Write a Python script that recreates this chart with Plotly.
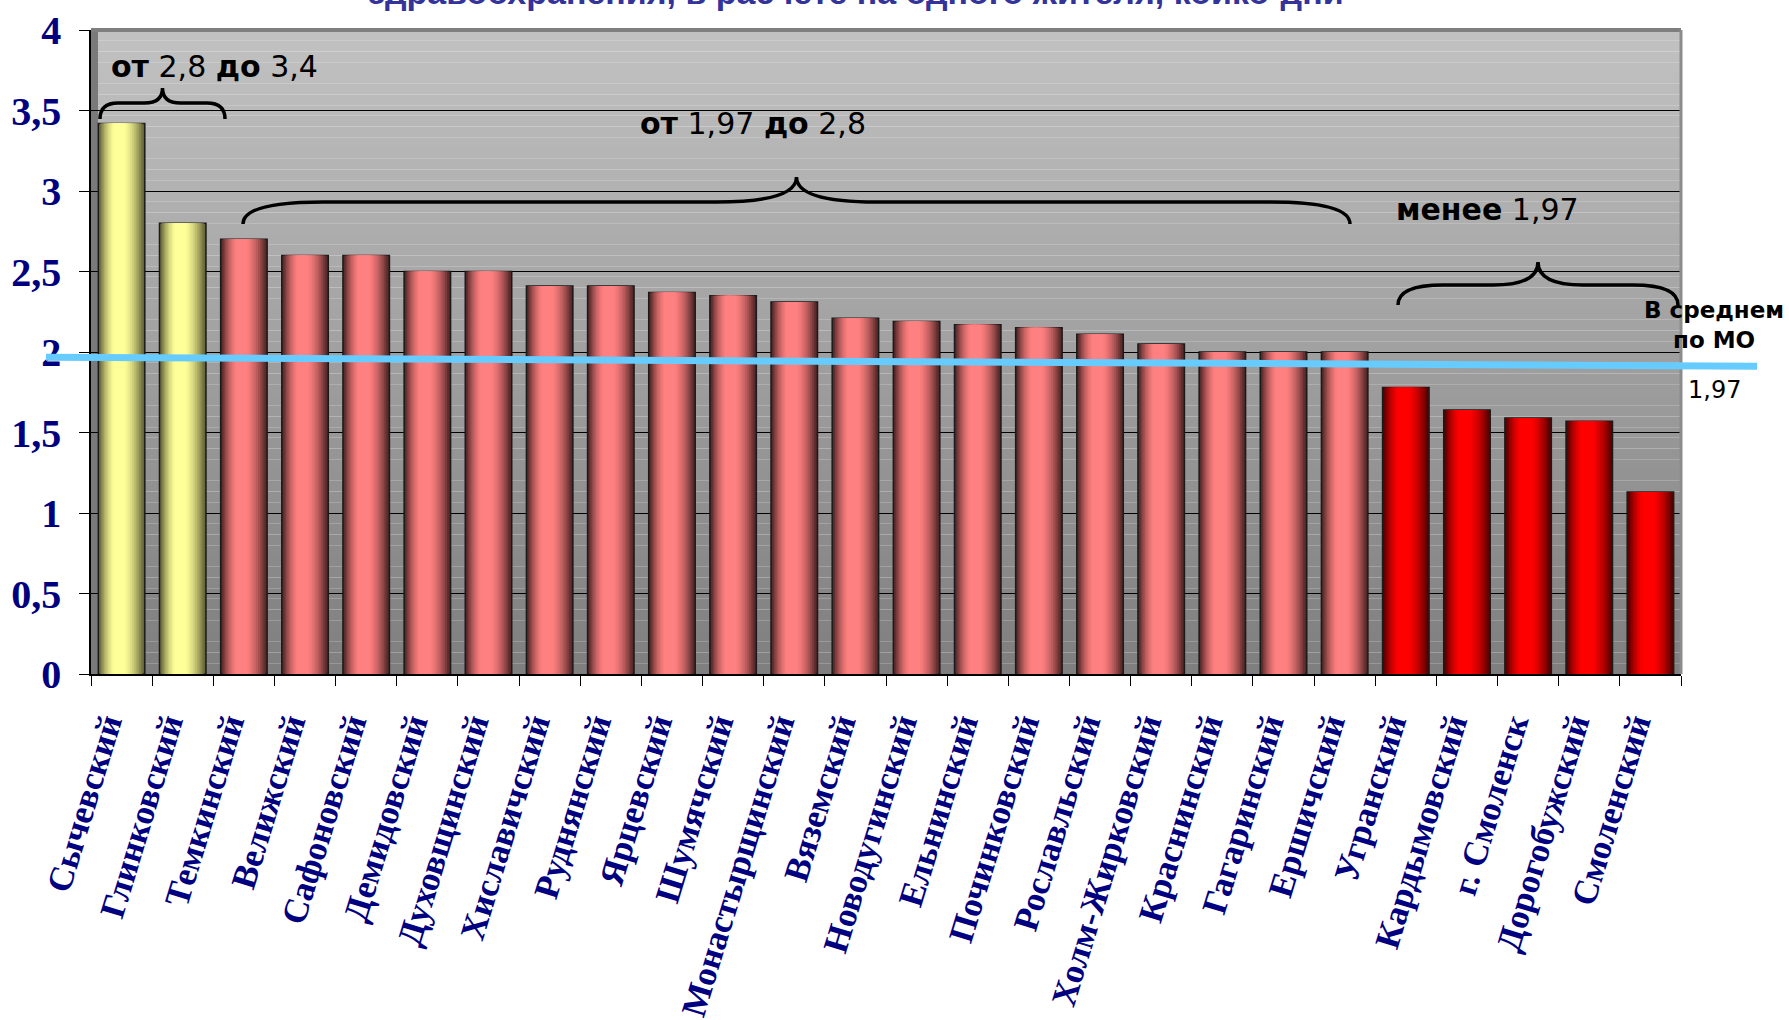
import plotly.graph_objects as go

# ---------------- data ----------------
categories = [
    "Сычевский", "Глинковский", "Темкинский", "Велижский", "Сафоновский",
    "Демидовский", "Духовщинский", "Хиславичский", "Руднянский", "Ярцевский",
    "Шумячский", "Монастырщинский", "Вяземский", "Новодугинский", "Ельнинский",
    "Починковский", "Рославльский", "Холм-Жирковский", "Краснинский", "Гагаринский",
    "Ершичский", "Угранский", "Кардымовский", "г. Смоленск", "Дорогобужский",
    "Смоленский",
]
values = [
    3.42, 2.80, 2.70, 2.60, 2.60,
    2.50, 2.50, 2.41, 2.41, 2.37,
    2.35, 2.31, 2.21, 2.19, 2.17,
    2.15, 2.11, 2.05, 2.00, 2.00,
    2.00, 1.78, 1.64, 1.59, 1.57,
    1.13,
]
AVG = 1.97
HIGH = 2.8
y_tick_values = [0, 0.5, 1, 1.5, 2, 2.5, 3, 3.5, 4]
title_text = "здравоохранения, в расчете на одного жителя, койко-дни"
group_labels = ["<b>от</b> 2,8 <b>до</b> 3,4", "<b>от</b> 1,97 <b>до</b> 2,8", "<b>менее</b> 1,97"]
avg_label = "<b>В среднем<br>по МО</b>"
avg_value_label = "1,97"

# ---------------- styling ----------------
W, H = 1789, 1020
L, R, T, B = 91, 1681, 30, 674

def px(x):
    return (x - L) / (R - L)

def py(y):
    return (B - y) / (B - T)

def hex2rgb(h):
    h = h.lstrip("#")
    return tuple(int(h[i:i + 2], 16) for i in (0, 2, 4))

def mix(c1, c2, t):
    a, b = hex2rgb(c1), hex2rgb(c2)
    return "rgb(%d,%d,%d)" % tuple(round(a[i] + (b[i] - a[i]) * t) for i in range(3))

palettes = {
    "yellow": ("#66663A", "#FFFF99"),
    "pink": ("#552828", "#FF8080"),
    "red": ("#580000", "#FF0000"),
}

def group_of(v):
    if v >= HIGH:
        return "yellow"
    if v >= AVG:
        return "pink"
    return "red"

groups = [group_of(v) for v in values]

fig = go.Figure()

BW = 0.76
N = 14
for i in range(N):
    t = i / (N - 1)
    frac = 1 - 0.9 * t                # relative width of this layer
    s = min(1.0, frac + 0.035)
    bright = (1 - s * s) if i > 0 else 0.0
    bright = min(1.0, bright * 1.1)
    cols = [mix(palettes[g][0], palettes[g][1], bright) for g in groups]
    w = BW * frac
    shift = -0.06 * BW * t
    fig.add_trace(go.Bar(
        x=categories, y=values, width=w, offset=-w / 2 + shift,
        marker=dict(color=cols,
                    line=dict(color="#1a1a1a", width=1.5 if i == 0 else 0)),
        hoverinfo="skip",
        showlegend=False,
    ))

# background gradient bands (below gridlines)
shapes = []
NB = 60
for k in range(NB):
    y0 = k / NB
    y1 = (k + 1) / NB
    tt = (k + 0.5) / NB
    shapes.append(dict(type="rect", xref="paper", yref="paper", x0=0, x1=1, y0=y0, y1=y1,
                       fillcolor=mix("#7E7E7E", "#C2C2C2", tt), line=dict(width=0), layer="below"))
# left wall strip
shapes.append(dict(type="rect", xref="paper", yref="paper", x0=0, x1=px(98), y0=0, y1=1,
                   fillcolor="#7A7A7A", line=dict(width=0), layer="below"))
# top / right frame
shapes.append(dict(type="line", xref="paper", yref="paper", x0=0, x1=1, y0=1, y1=1,
                   line=dict(color="#7F7F7F", width=4)))
shapes.append(dict(type="line", xref="paper", yref="paper", x0=1, x1=1, y0=0, y1=1,
                   line=dict(color="#8C8C8C", width=3)))

def brace(x0, x1, yend, yh, ypk, r):
    xm = (x0 + x1) / 2
    pts = [
        ("M", [(x0, yend)]),
        ("Q", [(x0, yh), (x0 + r, yh)]),
        ("L", [(xm - r, yh)]),
        ("Q", [(xm, yh), (xm, ypk)]),
        ("Q", [(xm, yh), (xm + r, yh)]),
        ("L", [(x1 - r, yh)]),
        ("Q", [(x1, yh), (x1, yend)]),
    ]
    out = []
    for cmd, pp in pts:
        out.append(cmd + " " + " ".join("%.5f,%.5f" % (px(a), py(b)) for a, b in pp))
    return " ".join(out)

for (x0, x1, yend, yh, ypk, r) in [
    (100, 225, 119, 103, 88, 18),
    (243, 1350, 224, 202, 177, 80),
    (1398, 1678, 305, 285, 262, 45),
]:
    shapes.append(dict(type="path", xref="paper", yref="paper",
                       path=brace(x0, x1, yend, yh, ypk, r),
                       line=dict(color="black", width=3.5)))

# average line (slightly sloped, as in the original hand-drawn line)
shapes.append(dict(type="line", xref="paper", yref="y",
                   x0=px(46), x1=px(1757), y0=AVG - 0.002, y1=AVG - 0.058,
                   line=dict(color="#66CCFF", width=7)))

ann_font = dict(family="DejaVu Sans", size=30, color="black")
annotations = [
    dict(text="<b>%s</b>" % title_text, xref="paper", yref="paper", x=px(856), y=py(13),
         xanchor="center", yanchor="bottom", showarrow=False,
         font=dict(family="Liberation Sans", size=34, color="#333399")),
    dict(text=group_labels[0], xref="paper", yref="paper", x=px(214), y=py(66),
         xanchor="center", yanchor="middle", showarrow=False, font=ann_font),
    dict(text=group_labels[1], xref="paper", yref="paper", x=px(753), y=py(123),
         xanchor="center", yanchor="middle", showarrow=False, font=ann_font),
    dict(text=group_labels[2], xref="paper", yref="paper", x=px(1487), y=py(209),
         xanchor="center", yanchor="middle", showarrow=False, font=ann_font),
    dict(text=avg_label, xref="paper", yref="paper", x=px(1714), y=py(325),
         xanchor="center", yanchor="middle", showarrow=False, align="center",
         font=dict(family="DejaVu Sans", size=23, color="black")),
    dict(text=avg_value_label, xref="paper", yref="paper", x=px(1714), y=py(390),
         xanchor="center", yanchor="middle", showarrow=False,
         font=dict(family="DejaVu Sans", size=24, color="black")),
]

fig.update_layout(
    width=W, height=H,
    margin=dict(l=L, r=W - R, t=T, b=H - B, pad=0, autoexpand=False),
    paper_bgcolor="white",
    plot_bgcolor="rgba(0,0,0,0)",
    barmode="overlay",
    separators=", ",
    shapes=shapes,
    annotations=annotations,
    xaxis=dict(
        type="category", tickangle=-73, tickson="boundaries", automargin=False,
        ticks="outside", ticklen=10, tickcolor="black",
        showline=True, linecolor="black", linewidth=1.5,
        showgrid=False, ticklabelstandoff=14, ticklabelshift=-16,
        tickfont=dict(family="Liberation Serif", size=35, color="#000080"),
        range=[-0.5, len(categories) - 0.5],
    ),
    yaxis=dict(
        range=[0, 4], tickvals=y_tick_values, automargin=False,
        ticks="outside", ticklen=10, tickcolor="black",
        showline=True, linecolor="black", linewidth=1.5,
        showgrid=True, gridcolor="black", gridwidth=1,
        zeroline=False, ticklabelstandoff=10,
        tickfont=dict(family="Liberation Serif", size=40, color="#000080"),
    ),
)

fig.update_xaxes(ticktext=["<b>%s</b>" % c for c in categories], tickvals=categories)
fig.update_yaxes(ticktext=["<b>%s</b>" % (("%g" % v).replace(".", ",")) for v in y_tick_values])

fig.write_html("out.html", config={"displayModeBar": False},
               post_script="document.body.style.margin='0';document.body.style.overflow='hidden';")
